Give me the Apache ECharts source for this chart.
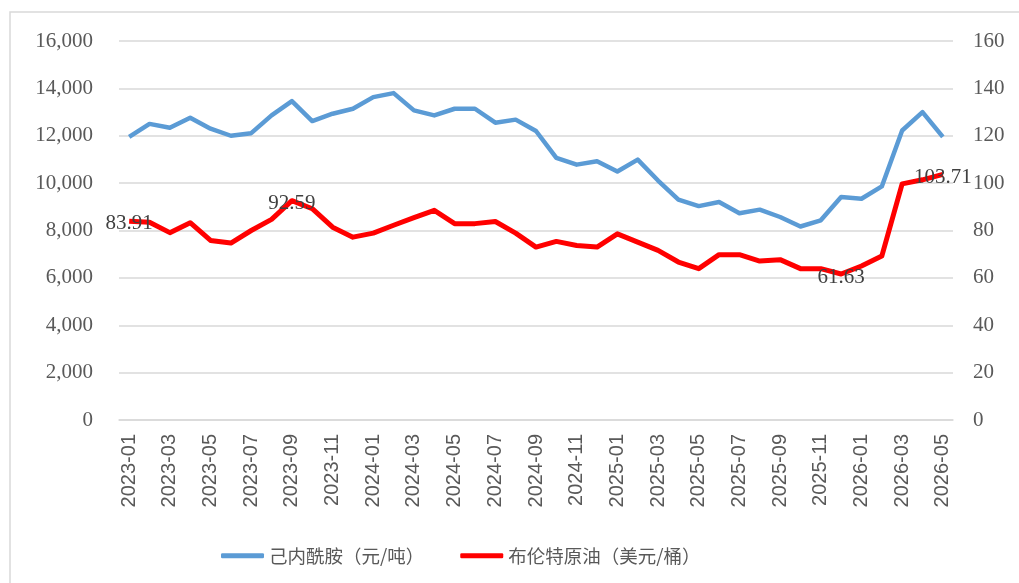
<!DOCTYPE html>
<html>
<head>
<meta charset="utf-8">
<style>
  html, body { margin: 0; padding: 0; background: #fff; }
  #chart { width: 1019px; height: 583px; }
</style>
<script src="https://cdn.jsdelivr.net/npm/echarts@6/dist/echarts.min.js"></script>
</head>
<body>
<div id="chart"></div>
<script>
// 月份
const months = [
  '2023-01', '2023-02', '2023-03', '2023-04', '2023-05', '2023-06', '2023-07', '2023-08', '2023-09', '2023-10', '2023-11', '2023-12',
  '2024-01', '2024-02', '2024-03', '2024-04', '2024-05', '2024-06', '2024-07', '2024-08', '2024-09', '2024-10', '2024-11', '2024-12',
  '2025-01', '2025-02', '2025-03', '2025-04', '2025-05', '2025-06', '2025-07', '2025-08', '2025-09', '2025-10', '2025-11', '2025-12',
  '2026-01', '2026-02', '2026-03', '2026-04', '2026-05',
]

// 己内酰胺（元/吨）
const caprolactam = [
  11950, 12500, 12340, 12760, 12300, 12000, 12110, 12860, 13460, 12620, 12930, 13140,
  13630, 13800, 13070, 12860, 13140, 13140, 12550, 12680, 12200, 11070, 10780, 10920,
  10490, 10990, 10110, 9300, 9030, 9200, 8730, 8880, 8570, 8170, 8430, 9410,
  9340, 9860, 12220, 13000, 11950,
]

// 布伦特原油（美元/桶）
const brent = [
  83.91, 83.5, 79.1, 83.3, 75.8, 74.7, 80.0, 84.7, 92.59, 89.2, 81.4, 77.2,
  78.9, 82.2, 85.4, 88.5, 82.9, 82.9, 83.8, 78.9, 73.0, 75.4, 73.7, 73.0,
  78.6, 75.1, 71.6, 66.7, 63.9, 69.8, 69.8, 67.1, 67.7, 63.9, 63.9, 61.63,
  65.0, 69.2, 99.7, 101.4, 103.71,
]

// 需要标注的点：index -> 相对点中心的偏移
const brentLabels = { 0: [0, 2], 8: [0, 3], 35: [0, 3], 40: [0, 3] }

const leftTicks = { min: 0, max: 16000, interval: 2000 }
const rightTicks = { min: 0, max: 160, interval: 20 }

const thousands = (v) => String(v).replace(/\B(?=(\d{3})+(?!\d))/g, ',')

const chart = echarts.init(document.getElementById('chart'), null, { renderer: 'canvas' })

const brentData = brent.map((v, i) => {
  if (brentLabels[i] === undefined) return v
  return {
    value: v,
    label: {
      show: true,
      position: 'inside',
      offset: brentLabels[i],
      color: '#404040',
      fontFamily: 'Liberation Serif',
      fontSize: 21,
    },
  }
})

const option = {
  backgroundColor: '#fff',
  animation: false,
  graphic: [
    {
      type: 'rect',
      shape: { x: 10, y: 12, width: 1100, height: 700 },
      style: { fill: 'none', stroke: '#d9d9d9', lineWidth: 1.5 },
      silent: true,
      z: -1,
    },
  ],
  grid: { left: 119, right: 66, top: 41, bottom: 163 },
  legend: {
    bottom: 13,
    left: 216,
    itemWidth: 43,
    itemHeight: 5,
    itemGap: 36,
    icon: 'roundRect',
    textStyle: { color: '#595959', fontSize: 18.5, fontFamily: 'Noto Sans CJK SC' },
    data: ['己内酰胺（元/吨）', '布伦特原油（美元/桶）'],
  },
  xAxis: {
    type: 'category',
    data: months,
    boundaryGap: true,
    axisLine: { lineStyle: { color: '#d9d9d9', width: 1.5 } },
    axisTick: { interval: 1, length: 7, lineStyle: { color: '#d9d9d9', width: 1.5 } },
    axisLabel: {
      interval: 1,
      rotate: 90,
      margin: 14,
      color: '#595959',
      fontSize: 20,
      fontFamily: 'Liberation Sans',
    },
  },
  yAxis: [
    {
      type: 'value',
      ...leftTicks,
      axisLine: { show: false },
      axisTick: { show: false },
      splitLine: { lineStyle: { color: '#d9d9d9', width: 1.5 } },
      axisLabel: {
        margin: 26,
        color: '#595959',
        fontSize: 21,
        fontFamily: 'Liberation Serif',
        formatter: thousands,
      },
    },
    {
      type: 'value',
      ...rightTicks,
      axisLine: { show: false },
      axisTick: { show: false },
      splitLine: { show: false },
      axisLabel: {
        margin: 20,
        color: '#595959',
        fontSize: 21,
        fontFamily: 'Liberation Serif',
      },
    },
  ],
  series: [
    {
      name: '己内酰胺（元/吨）',
      type: 'line',
      yAxisIndex: 0,
      data: caprolactam,
      symbol: 'none',
      lineStyle: { color: '#5B9BD5', width: 4.5, join: 'round' },
      itemStyle: { color: '#5B9BD5' },
      z: 2,
    },
    {
      name: '布伦特原油（美元/桶）',
      type: 'line',
      yAxisIndex: 1,
      data: brentData,
      symbol: 'circle',
      symbolSize: 0,
      showSymbol: true,
      lineStyle: { color: '#FF0000', width: 5, join: 'round' },
      itemStyle: { color: '#FF0000' },
      z: 3,
    },
  ],
}

chart.setOption(option)
</script>
</body>
</html>
